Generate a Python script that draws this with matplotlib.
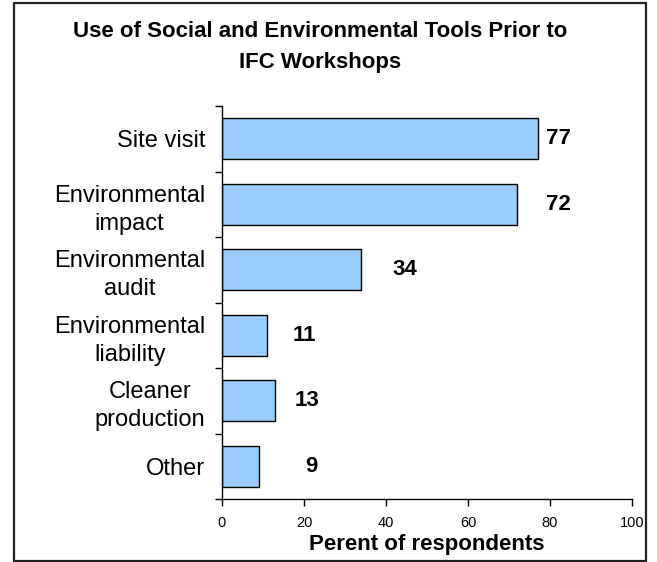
import matplotlib
matplotlib.use("Agg")
import matplotlib.pyplot as plt
from matplotlib.patches import Rectangle
from matplotlib.ticker import FixedLocator

plt.rcParams['font.family'] = ['Liberation Sans', 'DejaVu Sans']

categories = ["Site visit", "Environmental\nimpact", "Environmental\naudit",
              "Environmental\nliability", "Cleaner\nproduction", "Other"]
values = [77, 72, 34, 11, 13, 9]
x_ticks = [0, 20, 40, 60, 80, 100]

title = "Use of Social and Environmental Tools Prior to\nIFC Workshops"
x_label = "Perent of respondents"

# horizontal offsets of the value labels from the bar ends (data units)
label_offsets = [5.0, 10.0, 10.5, 9.2, 7.7, 12.9]

fig = plt.figure(figsize=(6.57, 5.62), dpi=100)
ax = fig.add_axes([222 / 657, 1 - 499 / 562, 410 / 657, 393 / 562])

n = len(categories)
ypos = list(range(n))[::-1]
ax.barh(ypos, values, height=0.62, color="#99CCFF", edgecolor="black", linewidth=1.0)

for y, v, off in zip(ypos, values, label_offsets):
    ax.text(v + off, y, str(v), ha="center", va="center",
            fontsize=16, fontweight="bold", color="black")

ax.set_xlim(0, 100)
ax.set_ylim(-0.5, n - 0.5)
ax.set_xticks(x_ticks)
ax.set_xticklabels([str(t) for t in x_ticks], fontsize=10.5)
ax.set_yticks(ypos)
ax.set_yticklabels(categories, fontsize=17)
for lbl in ax.get_yticklabels():
    lbl.set_multialignment("center")
    lbl.set_linespacing(1.35)
ax.yaxis.set_minor_locator(FixedLocator([i - 0.5 for i in range(n + 1)]))
ax.tick_params(axis="y", which="major", length=0, pad=12)
ax.tick_params(axis="y", which="minor", length=5, width=1, color="black")
ax.tick_params(axis="x", which="major", length=5, width=1, direction="out", pad=7)

for side in ("top", "right"):
    ax.spines[side].set_visible(False)
for side in ("left", "bottom"):
    ax.spines[side].set_linewidth(1.0)
    ax.spines[side].set_color("black")

ax.set_xlabel(x_label, fontsize=16, fontweight="bold", labelpad=3)

fig.text(0.487, 1 - 21 / 562, title, ha="center", va="top",
         fontsize=16, fontweight="bold", linespacing=1.6)

fig.patches.append(Rectangle((14 / 657, 1 - 561 / 562), 632 / 657, 558 / 562,
                             transform=fig.transFigure, fill=False,
                             edgecolor="#222222", linewidth=1.6))

fig.savefig("out.png", dpi=100)
